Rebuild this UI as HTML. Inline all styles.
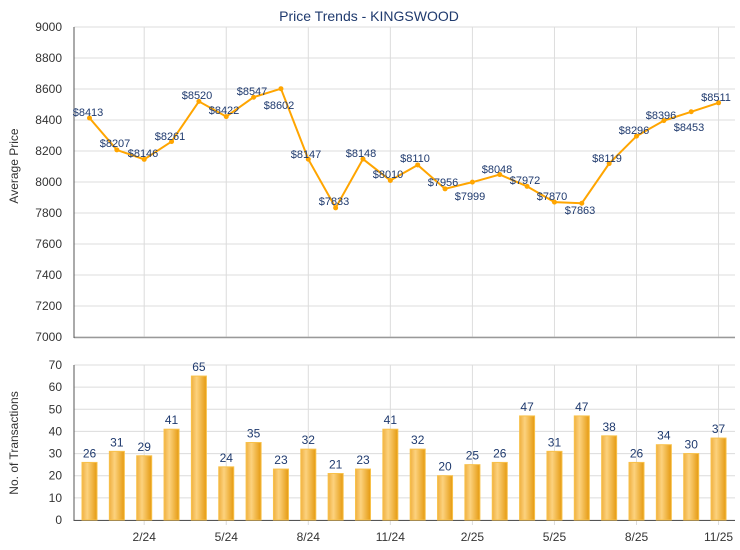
<!DOCTYPE html>
<html><head><meta charset="utf-8"><style>
html,body{margin:0;padding:0;background:#fff;}
svg{display:block;font-family:"Liberation Sans",sans-serif;}
</style></head><body>
<svg width="740" height="550" viewBox="0 0 740 550" xmlns="http://www.w3.org/2000/svg">
<defs>
<linearGradient id="bg" x1="0" x2="1" y1="0" y2="0">
<stop offset="0" stop-color="#f0b040"/><stop offset="0.35" stop-color="#fcd27e"/><stop offset="1" stop-color="#e59a10"/>
</linearGradient>
</defs>
<text x="369" y="21" text-anchor="middle" font-size="14" fill="#1f3a6e">Price Trends - KINGSWOOD</text>
<g id="g"></g>
</svg>
<script>
const NS="http://www.w3.org/2000/svg",g=document.getElementById('g');
function el(t,a,txt){const e=document.createElementNS(NS,t);for(const k in a)e.setAttribute(k,a[k]);if(txt!=null)e.textContent=txt;g.appendChild(e);return e;}
const L=74,R=735;
const P=[8413,8207,8146,8261,8520,8422,8547,8602,8147,7833,8148,8010,8110,7956,7999,8048,7972,7870,7863,8119,8296,8396,8453,8511];
const C=[26,31,29,41,65,24,35,23,32,21,23,41,32,20,25,26,47,31,47,38,26,34,30,37];
const LP=[[88,112],[115,143],[143,153],[170,136],[197,95],[224,110],[252,91],[279,105],[306,154],[334,201],[361,153],[388,174],[415,158],[443,182],[470,196],[497,169],[525,180],[552,196],[580,210],[607,158],[634,130],[661,115],[689,127],[716,97]];
const X=i=>89.5+27.35*i, PY=v=>27+(9000-v)*0.155, BY=v=>520-v*155/70;
// grid top
for(let v=7000;v<=9000;v+=200){const y=PY(v);el('line',{x1:L,x2:R,y1:y,y2:y,stroke:'#dcdcdc','stroke-width':1});el('text',{x:62,y:y+4,'text-anchor':'end','font-size':12,fill:'#333'},v);}
for(let v=0;v<=70;v+=10){const y=BY(v);el('line',{x1:L,x2:R,y1:y,y2:y,stroke:'#dcdcdc','stroke-width':1});el('text',{x:62,y:y+4,'text-anchor':'end','font-size':12,fill:'#333'},v);}
const xl=['2/24','5/24','8/24','11/24','2/25','5/25','8/25','11/25'];
xl.forEach((t,k)=>{const x=X(2+3*k);el('line',{x1:x,x2:x,y1:27,y2:337,stroke:'#dcdcdc'});el('line',{x1:x,x2:x,y1:365,y2:525,stroke:'#dcdcdc'});el('text',{x:x,y:541,'text-anchor':'middle','font-size':12,fill:'#333'},t);});
el('line',{x1:L,x2:R,y1:337.5,y2:337.5,stroke:'#999','stroke-width':1.5});
el('line',{x1:L,x2:L,y1:27,y2:338,stroke:'#555','stroke-width':1});
el('line',{x1:L,x2:R,y1:520.5,y2:520.5,stroke:'#555','stroke-width':1});
el('line',{x1:L,x2:L,y1:365,y2:521,stroke:'#555','stroke-width':1});
el('text',{x:18,y:166,'text-anchor':'middle','font-size':12,fill:'#333',transform:'rotate(-90 18 166)'},'Average Price');
el('text',{x:18,y:443,'text-anchor':'middle','font-size':12,fill:'#333',transform:'rotate(-90 18 443)'},'No. of Transactions');
// bars
C.forEach((v,i)=>{const x=X(i),y=BY(v);el('rect',{x:x-7.5,y:y,width:15,height:520-y,fill:'url(#bg)',stroke:'#f8c14a','stroke-width':1});el('text',{x:x,y:y-5,'text-anchor':'middle','font-size':12,fill:'#1f3a6e'},v);});
// line
el('polyline',{points:P.map((v,i)=>X(i)+','+PY(v)).join(' '),fill:'none',stroke:'#ffa500','stroke-width':2});
P.forEach((v,i)=>{el('circle',{cx:X(i),cy:PY(v),r:2.5,fill:'#ffa500'});});
P.forEach((v,i)=>{el('text',{x:LP[i][0],y:LP[i][1]+4,'text-anchor':'middle','font-size':11,fill:'#1f3a6e'},'$'+v);});
</script>
</body></html>
